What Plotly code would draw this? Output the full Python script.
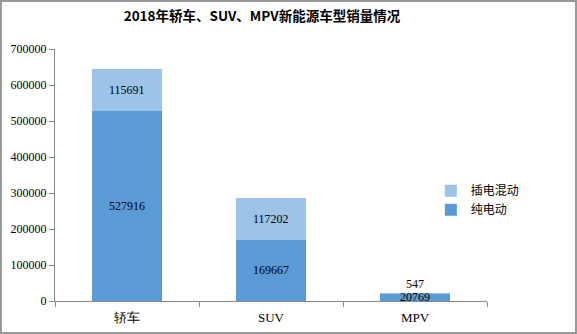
import plotly.graph_objects as go

categories = ["轿车", "SUV", "MPV"]
bev = [527916, 169667, 20769]
phev = [115691, 117202, 547]
series_names = ["纯电动", "插电混动"]
y_ticks = [0, 100000, 200000, 300000, 400000, 500000, 600000, 700000]

c_bev = "#5B9BD5"
c_phev = "#9DC3E6"
font_cn = "Noto Sans CJK SC"
font_num = "Liberation Serif"

W, H = 577, 334
ML, MR, MT, MB = 55, 90, 49, 33
PW, PH = W - ML - MR, H - MT - MB

fig = go.Figure()
fig.add_trace(go.Bar(x=categories, y=bev, name=series_names[0], marker_color=c_bev,
                     marker_line_width=0, width=0.49, hoverinfo="skip"))
fig.add_trace(go.Bar(x=categories, y=phev, name=series_names[1], marker_color=c_phev,
                     marker_line_width=0, width=0.49, hoverinfo="skip"))

# data labels
for i, c in enumerate(categories):
    fig.add_annotation(x=c, y=bev[i] / 2, text=str(bev[i]), showarrow=False,
                       font=dict(family=font_num, size=12, color="#000"))
    small = phev[i] < 20000
    fig.add_annotation(x=c, y=bev[i] + phev[i] if small else bev[i] + phev[i] / 2,
                       text=str(phev[i]), showarrow=False,
                       yshift=9 if small else 0,
                       font=dict(family=font_num, size=12, color="#000"))

fig.update_layout(
    width=W, height=H,
    margin=dict(l=ML, r=MR, t=MT, b=MB, autoexpand=False),
    paper_bgcolor="white", plot_bgcolor="white",
    barmode="stack", bargap=0.5,
    title=dict(text="<b>2018年轿车、SUV、MPV新能源车型销量情况</b>", x=0.454, xanchor="center",
               y=0.95, yanchor="middle",
               font=dict(family=font_cn, size=13.5, color="#000")),
    legend=dict(x=0.87, y=0.40, xanchor="left", yanchor="middle", traceorder="reversed",
                font=dict(family=font_cn, size=12, color="#000"),
                itemwidth=30, bgcolor="rgba(0,0,0,0)"),
    showlegend=True,
)
fig.update_xaxes(showline=True, linecolor="#888", linewidth=1, ticks="outside",
                 tickson="boundaries", ticklen=5, tickcolor="#888", automargin=False,
                 ticklabelstandoff=4,
                 tickfont=dict(family=font_num, size=13, color="#000"), showgrid=False)
fig.update_yaxes(range=[0, 700000], tickvals=y_ticks, showline=True, linecolor="#888",
                 linewidth=1, ticks="outside", ticklen=5, tickcolor="#888", automargin=False,
                 tickfont=dict(family=font_num, size=12, color="#000"), showgrid=False,
                 tickformat="d", zeroline=False)
# outer border of the whole picture
fig.add_shape(type="rect", xref="paper", yref="paper",
              x0=(1 - ML) / PW, x1=(W - 1 - ML) / PW,
              y0=-(MB - 1) / PH, y1=(PH + MT - 1) / PH,
              line=dict(color="#999", width=2), layer="above")
fig.write_html("out.html")
